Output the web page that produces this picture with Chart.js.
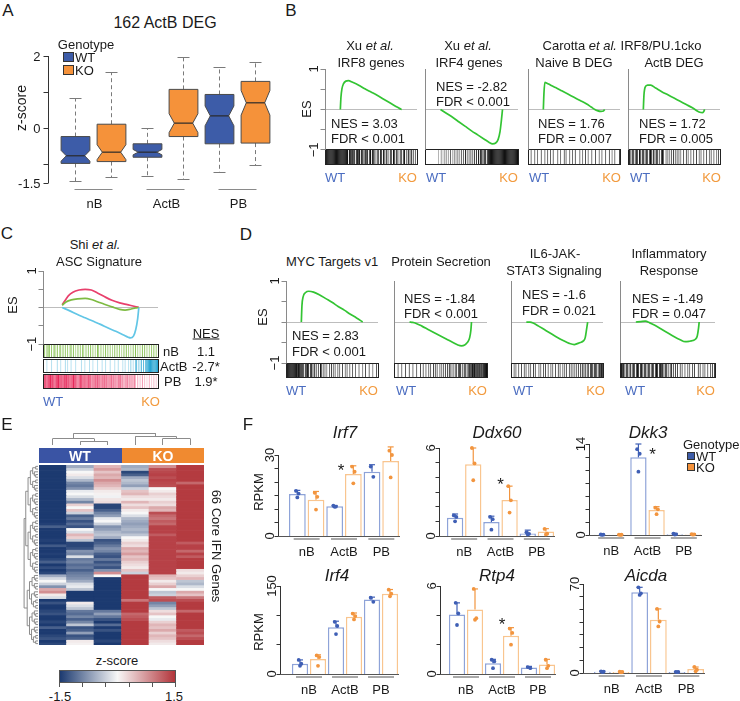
<!DOCTYPE html>
<html>
<head>
<meta charset="utf-8">
<script src="https://cdn.jsdelivr.net/npm/chart.js@4.4.1/dist/chart.umd.min.js"></script>
<style>
body { margin: 0; background: #fff; }
#fig { position: relative; width: 740px; height: 701px; overflow: hidden; font-family: "Liberation Sans", Arial, sans-serif; color: #1a1a1a; }
#fig canvas { position: absolute; }
.t { position: absolute; white-space: nowrap; line-height: 1; font-size: 13px; }
.sq { position: absolute; box-sizing: border-box; border: 1px solid #333; }
</style>
</head>
<body>
<div id="fig"></div>
<script>
// ---------- A: 162 ActB DEG (boxplot) ----------
var groups = ['nB', 'ActB', 'PB'];
var wtLow = [-1.46, -1.31, -1.22];
var wtQ1 = [-0.96, -0.79, -0.42];
var wtMed = [-0.75, -0.65, 0.35];
var wtQ3 = [-0.22, -0.42, 0.94];
var wtHigh = [0.83, -0.01, 1.68];
var koLow = [-1.35, -1.40, -1.03];
var koQ1 = [-0.91, -0.22, -0.40];
var koMed = [-0.65, 0.15, 0.71];
var koQ3 = [0.12, 1.08, 1.30];
var koHigh = [1.55, 1.95, 1.83];
var boxTicks = [2, 1, 0, -1, -1.5];
var boxTickLabels = ['2', '', '0', '', '-1.5'];

// ---------- B: GSEA running ES (x = rank %, y = ES) ----------
var esIRF8 = [[0, 0], [1, 0.3], [2.5, 0.5], [5, 0.63], [9, 0.7], [13, 0.71], [20, 0.67], [30, 0.6], [40, 0.51], [50, 0.43], [60, 0.35], [70, 0.26], [80, 0.17], [90, 0.08], [97, 0.02], [100, 0]];
var esIRF4 = [[0, 0], [10, -0.1], [20, -0.2], [30, -0.31], [40, -0.42], [50, -0.53], [60, -0.63], [70, -0.73], [78, -0.81], [84, -0.85], [89, -0.83], [93, -0.74], [96, -0.55], [98, -0.3], [100, 0]];
var esNaiveB = [[0, 0], [1, 0.4], [2.5, 0.67], [6, 0.65], [12, 0.6], [20, 0.54], [30, 0.46], [40, 0.38], [50, 0.3], [60, 0.22], [70, 0.14], [78, 0.06], [84, 0], [88, -0.03], [94, -0.05], [98, -0.04], [100, 0]];
var esActB = [[0, 0], [1, 0.35], [3, 0.55], [7, 0.6], [12, 0.6], [20, 0.53], [30, 0.44], [40, 0.36], [50, 0.28], [60, 0.2], [70, 0.12], [80, 0.04], [86, -0.02], [92, -0.07], [96, -0.08], [98.5, -0.05], [100, 0]];
// gene-set hits along the ranked list, one char per rank bin: 0 = none .. 9 = dark line
var hitsIRF8 = '9999999999' + '9999999999' + '9999909979' + '9790997909' + '7909979079' + '0979070970' + '9709707906' + '0970970790' + '6097079060' + '9707907060';
var hitsIRF4 = '0000000000' + '0000300503' + '0605040603' + '0605070507' + '0609060708' + '0709080909' + '7909890999' + '9999999999' + '9999999999' + '9999999999';
var hitsNaiveB = '7007000700' + '6000700070' + '0700600700' + '0070060007' + '0700070060' + '0700007006' + '0070060007' + '0007000600' + '7000700070' + '0600700007';
var hitsActB = '7970797079' + '7097079707' + '9707970970' + '7970707970' + '0707060707' + '0607070600' + '7007060070' + '0700700607' + '0070070060' + '7007006070';

// ---------- C: Shi et al. ASC signature ----------
var esC_nB = [[0, 0.06], [5, 0.15], [12, 0.21], [20, 0.24], [30, 0.25], [38, 0.22], [46, 0.16], [55, 0.09], [65, 0.02], [75, -0.05], [82, -0.07], [90, -0.04], [96, -0.01], [100, 0]];
var esC_ActB = [[0, 0], [10, -0.09], [20, -0.19], [30, -0.28], [40, -0.37], [50, -0.46], [60, -0.56], [70, -0.65], [80, -0.75], [86, -0.81], [89, -0.83], [93, -0.78], [96, -0.6], [98.5, -0.3], [100, 0]];
var esC_PB = [[0, 0.08], [4, 0.2], [8, 0.32], [14, 0.42], [22, 0.48], [30, 0.5], [38, 0.48], [46, 0.4], [55, 0.3], [65, 0.2], [75, 0.13], [85, 0.08], [95, 0.03], [100, 0]];
var hitsC_nB = '5707580706' + '8070570806' + '0705807050' + '8060750706' + '0807050860' + '7050807060' + '5080706050' + '8070605070' + '8060507080' + '6050708060';
var hitsC_ActB = '3003000300' + '0030030003' + '0300300030' + '0003003000' + '3003000300' + '0300300030' + '0030030003' + '0300305030' + '5706080709' + '8999999999';
var hitsC_PB = '9897989798' + '7989789797' + '8797879787' + '6787678767' + '6757675767' + '5756575656' + '4656465646' + '3545354535' + '3040304030' + '2030203020';
var nesC = ['1.1', '-2.7*', '1.9*'];

// ---------- D: Hallmark sets ----------
var esMYC = [[0, 0], [1, 0.4], [3, 0.62], [7, 0.72], [12, 0.75], [20, 0.73], [30, 0.66], [40, 0.57], [50, 0.48], [60, 0.38], [70, 0.29], [80, 0.19], [90, 0.1], [100, 0]];
var esSecretion = [[0, 0], [5, -0.01], [10, -0.03], [20, -0.1], [30, -0.18], [40, -0.26], [50, -0.34], [60, -0.42], [70, -0.5], [78, -0.56], [84, -0.58], [89, -0.56], [92, -0.52], [95, -0.46], [97, -0.38], [99, -0.2], [100, 0]];
var esIL6 = [[0, 0], [6, 0], [12, -0.03], [20, -0.1], [30, -0.19], [40, -0.28], [50, -0.37], [60, -0.45], [70, -0.52], [78, -0.55], [84, -0.52], [88, -0.5], [93, -0.46], [96, -0.38], [98.5, -0.15], [100, 0]];
var esInflam = [[0, 0], [8, 0.01], [15, 0.02], [22, -0.02], [30, -0.08], [40, -0.17], [50, -0.26], [60, -0.35], [70, -0.43], [78, -0.48], [84, -0.47], [90, -0.45], [94, -0.42], [97, -0.34], [99, -0.15], [100, 0]];
var hitsMYC = '9999999999' + '9979979797' + '0979707970' + '7907070970' + '7070600707' + '0607007070' + '0700607007' + '0070060007' + '0006007000' + '7000600070';
var hitsSecretion = '7000700070' + '0070007000' + '7000700070' + '0700700707' + '0070707007' + '0707070707' + '7070707707' + '7707077707' + '7977979779' + '7997979999';
var hitsIL6 = '7007070070' + '0700707007' + '0700707000' + '7070070700' + '7007070070' + '0707007070' + '7007070707' + '0707070770' + '7707707770' + '7977079797';
var hitsInflam = '7979707970' + '7907970797' + '0797079707' + '9707970797' + '0797970797' + '0707907070' + '7007070070' + '0707007070' + '0070700707' + '0070070707';

// ---------- E: 66 core IFN genes, z-scores per sample ----------
var hmSamples = ['WT1', 'WT2', 'WT3', 'KO1', 'KO2', 'KO3'];
var hmWT1 = [-1.5, -1.5, -1.5, -1.5, -1.5, -1.5, -1.5, -1.5, -1.5, -1.5,
  -1.5, -1.5, -1.5, -1.5, -1.5, -1.5, -1.5, -1.5, -1.5, -1.5,
  -1.5, -1.45, -1.2, -1.5, -1.5, -1.5, -1.5, -1.45, -1.5, -1.25,
  -1.5, -1.5, -1.45, -1.5, -1.4, -1.2, -1.5, -1.35, -1.5, -1.4,
  -0.6, -0.25, 0.0, -0.3, -0.8, 0.6, 0.8, 0.1, -0.2, -1.5,
  -1.3, -1.5, -1.5, -1.4, -1.3, -1.5, -1.5, -1.4, -1.5, -1.2,
  -1.5, -1.5, -1.4, -1.3, -1.5, -1.4];
var hmWT2 = [-0.6, -0.3, 0.0, 0.1, -0.2, -0.5, -0.9, -1.0, -0.8, -0.1,
  0.0, -0.2, -0.5, -0.9, 0.3, 0.0, 0.4, -0.3, -1.2, -1.0,
  -1.3, -1.1, -1.3, 0.0, -0.2, 0.5, 0.3, -0.4, -1.4, -1.4,
  -1.3, -0.8, -0.9, -0.2, -1.0, -0.9, -1.1, -1.0, -1.2, -1.0,
  -0.9, -0.8, -0.6, -0.2, -0.1, -0.4, -1.5, -1.5, -1.5, -1.5,
  0.1, -0.2, -0.4, -1.0, -1.1, -0.9, -1.2, -0.9, -0.4, -1.3,
  -1.2, -0.7, -1.3, -1.2, 0.1, 0.05];
var hmWT3 = [0.5, 0.7, 0.4, 0.6, 0.5, 0.8, 0.6, 0.5, 0.3, 0.1,
  0.05, -0.05, 0.15, 0.2, -1.4, -1.4, -1.2, -0.9, -0.7, -0.1,
  0.0, -0.3, -0.8, -0.7, -0.5, -0.4, -0.6, -1.3, -1.2, -1.0,
  -0.8, -0.9, -1.2, -1.3, -1.0, -1.3, -1.1, -1.3, -0.8, 0.8,
  0.0, -1.5, -1.5, -1.5, -1.5, -1.5, -1.5, -1.5, -1.5, -1.5,
  -1.5, -1.5, -1.5, -1.0, -0.7, -1.0, -1.3, -1.5, -1.1, -1.5,
  -1.3, -1.5, -1.5, -1.5, -1.4, -1.5];
var hmKO1 = [-0.6, -0.5, -1.4, -1.2, -0.6, -0.4, -0.5, -0.7, -0.3, 0.4,
  0.5, 0.2, 0.1, 0.5, 0.2, 0.4, 0.1, 0.0, -0.2, -0.5,
  -0.6, -0.7, -0.6, -0.5, -0.6, -0.4, 0.0, 0.1, 0.3, 0.2,
  0.6, 0.5, 0.7, 0.4, 0.5, 0.3, 0.2, 0.1, 0.4, -0.3,
  1.45, 1.45, 1.45, 1.45, 1.45, 1.45, 1.45, 1.45, 1.45, 1.0,
  1.45, 1.45, 1.45, 1.45, 1.1, 1.2, 1.3, 1.45, 1.45, 1.45,
  1.45, 1.45, 1.45, 1.45, 1.45, 1.45];
var hmKO2 = [0.8, 1.3, 1.35, 1.4, 1.3, 1.4, 1.35, 1.3, 0.0, 0.1,
  0.3, 0.2, 0.1, 0.3, 0.2, 0.6, 0.5, 1.3, 1.1, 1.0,
  1.2, 1.1, 1.4, 1.4, 1.4, 1.2, 1.4, 1.4, 1.4, 1.4,
  1.4, 1.4, 1.4, 1.4, 1.4, 1.4, 1.4, 1.4, 1.4, 1.4,
  0.5, 0.4, 0.1, 0.3, 0.6, 0.0, -0.4, -0.3, 1.2, 1.3,
  -0.9, -0.7, -0.4, 0.2, 0.4, 0.0, -0.1, 0.3, 0.5, 0.4,
  0.6, 0.3, 0.5, 0.4, 0.2, 0.1];
var hmKO3 = [1.45, 1.45, 1.45, 1.45, 1.45, 1.45, 1.1, 1.45, 1.45, 1.45,
  1.45, 1.45, 1.45, 1.45, 1.45, 1.45, 1.45, 1.45, 1.45, 1.45,
  1.45, 1.45, 1.45, 1.45, 1.45, 1.45, 1.45, 1.45, 1.2, 1.4,
  1.4, 1.1, 1.4, 1.2, 1.45, 1.45, 1.45, 1.45, 0.2, 0.1,
  0.3, 0.5, -0.4, -0.5, -0.2, 0.0, 0.6, 0.4, 1.0, 1.3,
  1.45, 1.45, 1.45, 1.1, 1.45, 1.45, 1.45, 1.45, 1.45, 1.45,
  1.2, 1.3, 1.1, 1.3, 1.45, 1.45];

// ---------- F: RPKM (bar = mean, err = top of error bar, dots = replicates) ----------
var irf7WT = [15.6, 11.0, 23.8], irf7KO = [13.4, 23.0, 27.8];
var irf7WTerr = [16.9, 11.3, 26.4], irf7KOerr = [16.5, 26.0, 33.0];
var irf7WTdots = [[16.7, 15.7, 14.3], [11.2, 10.9, 10.8], [25.7, 21.9]];
var irf7KOdots = [[16.0, 14.5, 9.8], [25.7, 23.8, 19.5], [31.6, 30.0, 21.7]];

var ddx60WT = [1.25, 0.95, 0.17], ddx60KO = [4.9, 2.45, 0.3];
var ddx60WTerr = [1.5, 1.35, 0.4], ddx60KOerr = [6.0, 3.4, 0.5];
var ddx60WTdots = [[1.4, 1.3, 1.0], [1.3, 1.15, 0.43], [0.25, 0.15, 0.1]];
var ddx60KOdots = [[6.0, 4.95, 3.8], [3.4, 2.43, 1.6], [0.48, 0.16, 0.11]];

var dkk3WT = [0.05, 11.95, 0.12], dkk3KO = [0.04, 3.85, 0.08];
var dkk3WTerr = [0.1, 14.0, 0.25], dkk3KOerr = [0.08, 4.36, 0.2];
var dkk3WTdots = [[0.08, 0.05, 0.03], [13.2, 12.5, 9.74], [0.2, 0.1, 0.08]];
var dkk3KOdots = [[0.05, 0.04, 0.03], [4.2, 3.95, 3.2], [0.15, 0.1, 0.05]];

var irf4WT = [17.5, 79.5, 126.9], irf4KO = [25.4, 97.6, 137];
var irf4WTerr = [24, 90, 131], irf4KOerr = [32.7, 104, 144];
var irf4WTdots = [[24, 17.5, 14], [89, 81.8, 68], [130, 123]];
var irf4KOdots = [[31.6, 28.8, 14], [103, 98.7, 93], [143.8, 137, 132.5]];

var rtp4WT = [4.06, 0.74, 0.45], rtp4KO = [4.4, 2.6, 0.65];
var rtp4WTerr = [4.85, 1.0, 0.52], rtp4KOerr = [5.8, 3.16, 1.0];
var rtp4WTdots = [[4.85, 4.13, 3.34], [0.97, 0.86, 0.4], [0.47, 0.4]];
var rtp4KOdots = [[5.8, 3.8, 3.7], [3.1, 2.8, 2.0], [0.97, 0.56, 0.4]];

var aicdaWT = [1.0, 63.5, 0.8], aicdaKO = [0.8, 41.8, 3.2];
var aicdaWTerr = [1.6, 67.4, 1.0], aicdaKOerr = [1.2, 50.4, 4.7];
var aicdaWTdots = [[1.3, 1.0, 0.7], [67.4, 62.7, 61.4], [0.9, 0.8, 0.7]];
var aicdaKOdots = [[1.0, 0.8, 0.6], [50.4, 40.5, 36.6], [4.7, 2.6, 1.3]];

// ---------- styles ----------
var FONT = '"Liberation Sans", Arial, sans-serif';
var WT_BOX = '#3d5ca8', KO_BOX = '#f5923a';
var WT_TXT = '#4a6cc0', KO_TXT = '#f29a3e';
var ES_GREEN = '#33c433';

var fig = document.getElementById('fig');

function txt(s, x, y, o) {
  o = o || {};
  var d = document.createElement('div');
  d.className = 't';
  d.innerHTML = s;
  d.style.left = x + 'px';
  d.style.top = y + 'px';
  if (o.size) d.style.fontSize = o.size + 'px';
  if (o.color) d.style.color = o.color;
  if (o.italic) d.style.fontStyle = 'italic';
  if (o.bold) d.style.fontWeight = 'bold';
  if (o.under) d.style.textDecoration = 'underline';
  var tx = o.align === 'left' ? '0' : (o.align === 'right' ? '-100%' : '-50%');
  var tf = 'translate(' + tx + ',-50%)';
  if (o.rot) tf += ' rotate(' + o.rot + 'deg)';
  d.style.transform = tf;
  fig.appendChild(d);
  return d;
}

function square(x, y, w, h, color, noBorder) {
  var d = document.createElement('div');
  d.className = 'sq';
  d.style.left = x + 'px'; d.style.top = y + 'px';
  d.style.width = w + 'px'; d.style.height = h + 'px';
  d.style.background = color;
  if (noBorder) d.style.border = 'none';
  fig.appendChild(d);
  return d;
}

function seg(ctx, x1, y1, x2, y2) {
  ctx.beginPath(); ctx.moveTo(x1, y1); ctx.lineTo(x2, y2); ctx.stroke();
}
function px(v) { return Math.round(v - 0.5) + 0.5; }
function vLabel(ctx, s, x, y) {
  ctx.save();
  ctx.translate(x, y);
  ctx.rotate(-Math.PI / 2);
  ctx.textAlign = 'center'; ctx.textBaseline = 'middle';
  ctx.fillText(s, 0, 0);
  ctx.restore();
}

// box = canvas [x, y, w, h]; area = plot [left, top, right, bottom], page coords
function makeChart(box, area, config) {
  var c = document.createElement('canvas');
  c.width = box[2]; c.height = box[3];
  c.style.left = box[0] + 'px'; c.style.top = box[1] + 'px';
  fig.appendChild(c);
  var o = config.options = config.options || {};
  o.responsive = false;
  o.animation = false;
  o.events = [];
  o.devicePixelRatio = 1;
  o.layout = { padding: { left: area[0] - box[0], top: area[1] - box[1], right: box[0] + box[2] - area[2], bottom: box[1] + box[3] - area[3] } };
  o.plugins = { legend: { display: false }, tooltip: { enabled: false } };
  return new Chart(c, config);
}

function shade(rgb, level) {
  var f = level / 9;
  return 'rgb(' + rgb.map(function (v) { return Math.round(255 + (v - 255) * f); }).join(',') + ')';
}

// ================= A =================
function drawBoxes(chart) {
  var ctx = chart.ctx, ys = chart.scales.y, xs = chart.scales.x, ca = chart.chartArea;
  ctx.save();
  chart.data.datasets.forEach(function (ds, di) {
    chart.getDatasetMeta(di).data.forEach(function (bar, i) {
      var x = bar.x, hw = bar.width / 2;
      var yl = ys.getPixelForValue(ds.low[i]), yh = ys.getPixelForValue(ds.high[i]);
      var y1 = ys.getPixelForValue(ds.data[i][0]), y3 = ys.getPixelForValue(ds.data[i][1]);
      var ym = ys.getPixelForValue(ds.med[i]);
      ctx.strokeStyle = '#7a7a7a'; ctx.lineWidth = 1;
      ctx.setLineDash([4, 3]);
      seg(ctx, px(x), y3, px(x), yh);
      seg(ctx, px(x), y1, px(x), yl);
      ctx.setLineDash([]);
      seg(ctx, x - 6, px(yh), x + 6, px(yh));
      seg(ctx, x - 6, px(yl), x + 6, px(yl));
      var nh = 0.2 * (y1 - y3);
      var nt = Math.max(y3, ym - nh), nb = Math.min(y1, ym + nh), ins = bar.width * 0.18;
      ctx.beginPath();
      ctx.moveTo(x - hw, y3); ctx.lineTo(x + hw, y3); ctx.lineTo(x + hw, nt);
      ctx.lineTo(x + hw - ins, ym); ctx.lineTo(x + hw, nb); ctx.lineTo(x + hw, y1);
      ctx.lineTo(x - hw, y1); ctx.lineTo(x - hw, nb); ctx.lineTo(x - hw + ins, ym);
      ctx.lineTo(x - hw, nt); ctx.closePath();
      ctx.fillStyle = ds.boxColor; ctx.fill();
      ctx.strokeStyle = '#4a4a4a'; ctx.stroke();
      ctx.strokeStyle = '#2a2a2a'; ctx.lineWidth = 1.2;
      seg(ctx, x - hw + ins, ym, x + hw - ins, ym);
    });
  });
  // y axis
  var ax = px(ca.left - 9.5);
  ctx.strokeStyle = '#333'; ctx.lineWidth = 1;
  seg(ctx, ax, ys.getPixelForValue(2), ax, ys.getPixelForValue(-1.5));
  ctx.fillStyle = '#1a1a1a'; ctx.font = '13px ' + FONT;
  ctx.textAlign = 'right'; ctx.textBaseline = 'middle';
  boxTicks.forEach(function (v, i) {
    var y = px(ys.getPixelForValue(v));
    seg(ctx, ax - 5, y, ax, y);
    if (boxTickLabels[i]) ctx.fillText(boxTickLabels[i], ax - 8, y + 1);
  });
  // group underline + labels
  var base = ys.getPixelForValue(-1.5);
  ctx.textAlign = 'center'; ctx.strokeStyle = '#8a8a8a';
  groups.forEach(function (g, i) {
    var gx = xs.getPixelForValue(i);
    seg(ctx, gx - 19, px(base + 6), gx + 19, px(base + 6));
    ctx.fillText(g, gx + 1, base + 21);
  });
  ctx.restore();
}

makeChart([0, 40, 285, 180], [57.5, 56, 273.5, 183], {
  type: 'bar',
  data: {
    labels: groups,
    datasets: [
      { label: 'WT', data: groups.map(function (g, i) { return [wtQ1[i], wtQ3[i]]; }), low: wtLow, med: wtMed, high: wtHigh, boxColor: WT_BOX, backgroundColor: 'rgba(0,0,0,0)', borderWidth: 0 },
      { label: 'KO', data: groups.map(function (g, i) { return [koQ1[i], koQ3[i]]; }), low: koLow, med: koMed, high: koHigh, boxColor: KO_BOX, backgroundColor: 'rgba(0,0,0,0)', borderWidth: 0 }
    ]
  },
  options: {
    datasets: { bar: { categoryPercentage: 1, barPercentage: 0.8 } },
    scales: { x: { display: false }, y: { display: false, min: -1.5, max: 2 } }
  },
  plugins: [{ id: 'boxes', afterDatasetsDraw: drawBoxes }]
});

// ================= GSEA panels (B, C, D) =================
function gseaPlot(area, yMin, curves, codes, withTicks) {
  var nb = codes[0].hits.length;
  var bins = [];
  for (var i = 0; i < nb; i++) bins.push(i);
  var sets = curves.map(function (c) {
    return { type: 'line', xAxisID: 'x', yAxisID: 'y', data: c.es.map(function (p) { return { x: p[0], y: p[1] }; }),
      borderColor: c.color, borderWidth: 1.7, pointRadius: 0, cubicInterpolationMode: 'monotone', clip: 4, order: 0 };
  });
  codes.forEach(function (b) {
    var h = b.hits.split('');
    sets.push({ type: 'bar', xAxisID: 'xb', yAxisID: 'y', data: h.map(function () { return [b.lo, b.hi]; }),
      backgroundColor: h.map(function (v) { return shade(b.color, +v); }),
      barPercentage: 1, categoryPercentage: 1, borderWidth: 0, inflateAmount: 0, grouped: false, order: 1, lo: b.lo, hi: b.hi });
  });
  makeChart([area[0] - 30, area[1] - 8, area[2] - area[0] + 40, area[3] - area[1] + 16], area, {
    type: 'bar',
    data: { labels: bins, datasets: sets },
    options: {
      scales: {
        x: { type: 'linear', min: 0, max: 100, display: false },
        xb: { type: 'category', labels: bins, offset: true, display: false },
        y: { type: 'linear', min: yMin, max: 1, display: false }
      }
    },
    plugins: [{
      id: 'gsea',
      beforeDatasetsDraw: function (chart) {
        var ctx = chart.ctx, ys = chart.scales.y, ca = chart.chartArea;
        ctx.save();
        ctx.strokeStyle = '#bdbdbd'; ctx.lineWidth = 1;
        seg(ctx, ca.left, px(ys.getPixelForValue(0)), ca.right, px(ys.getPixelForValue(0)));
        ctx.restore();
      },
      afterDatasetsDraw: function (chart) {
        var ctx = chart.ctx, ys = chart.scales.y, ca = chart.chartArea;
        ctx.save();
        ctx.lineWidth = 1;
        ctx.strokeStyle = '#222';
        chart.data.datasets.forEach(function (ds) {
          if (ds.type !== 'bar') return;
          var t = px(ys.getPixelForValue(ds.hi)), b = px(ys.getPixelForValue(ds.lo));
          ctx.strokeRect(px(ca.left), t, Math.round(ca.right - ca.left), b - t);
        });
        var ax = px(ca.left);
        ctx.strokeStyle = '#8a8a8a';
        seg(ctx, ax, ys.getPixelForValue(1), ax, ys.getPixelForValue(-1));
        if (withTicks) {
          [1, 0.5, 0, -0.5, -1].forEach(function (v) {
            var y = px(ys.getPixelForValue(v));
            seg(ctx, ax - 5, y, ax, y);
          });
          ctx.fillStyle = '#1a1a1a'; ctx.font = '13px ' + FONT;
          vLabel(ctx, '1', ax - 11, ys.getPixelForValue(1));
          vLabel(ctx, '\u22121', ax - 11, ys.getPixelForValue(-1));
        }
        ctx.restore();
      }
    }]
  });
}

var BLACK = [0, 0, 0];
// B
gseaPlot([325, 69, 417, 164], -1.35, [{ es: esIRF8, color: ES_GREEN }], [{ hits: hitsIRF8, lo: -1.35, hi: -1, color: BLACK }], true);
gseaPlot([425, 69, 518, 164], -1.35, [{ es: esIRF4, color: ES_GREEN }], [{ hits: hitsIRF4, lo: -1.35, hi: -1, color: BLACK }], false);
gseaPlot([528, 69, 620, 164], -1.35, [{ es: esNaiveB, color: ES_GREEN }], [{ hits: hitsNaiveB, lo: -1.35, hi: -1, color: BLACK }], false);
gseaPlot([628, 69, 720, 164], -1.35, [{ es: esActB, color: ES_GREEN }], [{ hits: hitsActB, lo: -1.35, hi: -1, color: BLACK }], false);
// C
gseaPlot([43, 271, 158, 388], -2.2,
  [{ es: esC_ActB, color: '#62c6e6' }, { es: esC_nB, color: '#7dbb42' }, { es: esC_PB, color: '#e8406c' }],
  [{ hits: hitsC_nB, lo: -1.36, hi: -1.0, color: [120, 185, 60] },
   { hits: hitsC_ActB, lo: -1.78, hi: -1.42, color: [40, 165, 210] },
   { hits: hitsC_PB, lo: -2.2, hi: -1.84, color: [230, 40, 90] }], true);
// D
gseaPlot([286, 281, 378, 377], -1.34, [{ es: esMYC, color: ES_GREEN }], [{ hits: hitsMYC, lo: -1.34, hi: -1, color: BLACK }], true);
gseaPlot([394, 281, 487, 377], -1.34, [{ es: esSecretion, color: ES_GREEN }], [{ hits: hitsSecretion, lo: -1.34, hi: -1, color: BLACK }], false);
gseaPlot([511, 281, 603, 377], -1.34, [{ es: esIL6, color: ES_GREEN }], [{ hits: hitsIL6, lo: -1.34, hi: -1, color: BLACK }], false);
gseaPlot([620, 281, 715, 377], -1.34, [{ es: esInflam, color: ES_GREEN }], [{ hits: hitsInflam, lo: -1.34, hi: -1, color: BLACK }], false);

// ================= E: heatmap =================
function zColor(z) {
  var t = Math.max(-1.5, Math.min(1.5, z)) / 1.5;
  var lo = t < 0 ? [28, 58, 112] : [178, 52, 58], mid = [247, 247, 247], f = Math.abs(t);
  return 'rgb(' + mid.map(function (m, k) { return Math.round(m + (lo[k] - m) * f); }).join(',') + ')';
}
var hmCols = [hmWT1, hmWT2, hmWT3, hmKO1, hmKO2, hmKO3];
var hmSets = hmWT1.map(function (v, r) {
  return { data: hmCols.map(function () { return 1; }), backgroundColor: hmCols.map(function (col) { return zColor(col[r]); }),
    borderWidth: 0, barPercentage: 1, categoryPercentage: 1 };
});
makeChart([12, 426, 200, 224], [39, 465, 204, 645], {
  type: 'bar',
  data: { labels: hmSamples, datasets: hmSets },
  options: {
    scales: {
      x: { stacked: true, display: false },
      y: { stacked: true, min: 0, max: hmWT1.length, reverse: true, display: false }
    }
  },
  plugins: [{
    id: 'dendro',
    afterDraw: function (chart) {
      var ctx = chart.ctx, xs = chart.scales.x, ys = chart.scales.y, ca = chart.chartArea;
      ctx.save();
      ctx.strokeStyle = '#8c8c8c'; ctx.lineWidth = 1;
      // sample tree
      var top = ca.top;
      function cx(i) { return xs.getPixelForValue(i); }
      function bracket(x1, y1, x2, y2, h) {
        seg(ctx, px(x1), y1, px(x1), px(h)); seg(ctx, px(x2), y2, px(x2), px(h)); seg(ctx, x1, px(h), x2, px(h));
      }
      var leaf = top - 20;
      bracket(cx(1), leaf, cx(2), leaf, top - 24);
      bracket(cx(0), leaf, (cx(1) + cx(2)) / 2, top - 24, top - 27);
      bracket(cx(4), leaf, cx(5), leaf, top - 27);
      bracket(cx(3), leaf, (cx(4) + cx(5)) / 2, top - 27, top - 29);
      bracket((cx(0) + (cx(1) + cx(2)) / 2) / 2, top - 27, (cx(3) + (cx(4) + cx(5)) / 2) / 2, top - 29, top - 32);
      // gene tree
      var leafX = ca.left - 1;
      function branch(lo, hi) {
        if (hi - lo === 1) return { x: leafX, y: ys.getPixelForValue(lo + 0.5) };
        var mid = (lo === 0 && hi === hmWT1.length) ? 40 : Math.floor((lo + hi) / 2);
        var a = branch(lo, mid), b = branch(mid, hi);
        var x = leafX - 2.3 * Math.log2(hi - lo);
        seg(ctx, a.x, a.y, x, a.y); seg(ctx, b.x, b.y, x, b.y); seg(ctx, x, a.y, x, b.y);
        return { x: x, y: (a.y + b.y) / 2 };
      }
      branch(0, hmWT1.length);
      ctx.restore();
    }
  }]
});

// ================= F: RPKM bar charts =================
function rpkmPlot(area, axisX, yMax, yStep, wt, ko, wtErr, koErr, wtDots, koDots, star) {
  makeChart([axisX - 25, area[1] - 14, area[2] - axisX + 32, area[3] - area[1] + 40], area, {
    type: 'bar',
    data: {
      labels: groups,
      datasets: [
        { data: wt, err: wtErr, dots: wtDots, dotColor: '#3f5fb5', backgroundColor: '#ffffff', borderColor: '#8ea3d8', borderWidth: 1.5 },
        { data: ko, err: koErr, dots: koDots, dotColor: '#f2953f', backgroundColor: '#ffffff', borderColor: '#f9c58f', borderWidth: 1.5 }
      ]
    },
    options: {
      datasets: { bar: { categoryPercentage: 1, barPercentage: 0.9 } },
      scales: { x: { display: false }, y: { display: false, min: 0, max: yMax } }
    },
    plugins: [{
      id: 'rpkm',
      afterDatasetsDraw: function (chart) {
        var ctx = chart.ctx, ys = chart.scales.y, xs = chart.scales.x, ca = chart.chartArea;
        ctx.save();
        var y0 = px(ys.getPixelForValue(0));
        var ax = px(ca.left - (area[0] - axisX));
        // baseline and group lines
        ctx.lineWidth = 1; ctx.strokeStyle = '#555';
        seg(ctx, ax, y0, ca.right, y0);
        ctx.strokeStyle = '#8c8c8c'; ctx.lineWidth = 1.5;
        groups.forEach(function (g, i) {
          var gx = xs.getPixelForValue(i);
          seg(ctx, gx - 13, y0 + 2.5, gx + 13, y0 + 2.5);
        });
        // error bars and replicate dots
        var jit = [-1.3, 1.3, 0];
        chart.data.datasets.forEach(function (ds, di) {
          chart.getDatasetMeta(di).data.forEach(function (bar, i) {
            ctx.strokeStyle = ds.dotColor; ctx.fillStyle = ds.dotColor; ctx.lineWidth = 1.2;
            var ye = ys.getPixelForValue(ds.err[i]);
            seg(ctx, bar.x, bar.y, bar.x, ye);
            seg(ctx, bar.x - 3, ye, bar.x + 3, ye);
            ds.dots[i].forEach(function (v, k) {
              ctx.beginPath();
              ctx.arc(bar.x + jit[k], ys.getPixelForValue(v), 1.9, 0, Math.PI * 2);
              ctx.fill();
            });
          });
        });
        // y axis
        ctx.strokeStyle = '#333'; ctx.lineWidth = 1;
        seg(ctx, ax, y0, ax, ys.getPixelForValue(yMax));
        for (var v = 0; v <= yMax + 1e-9; v += yStep) {
          var y = px(ys.getPixelForValue(v));
          seg(ctx, ax - 4, y, ax, y);
        }
        ctx.fillStyle = '#1a1a1a'; ctx.font = '13px ' + FONT;
        vLabel(ctx, String(yMax), ax - 8, ys.getPixelForValue(yMax));
        vLabel(ctx, '0', ax - 8, ys.getPixelForValue(0));
        ctx.textAlign = 'center'; ctx.textBaseline = 'middle';
        groups.forEach(function (g, i) { ctx.fillText(g, xs.getPixelForValue(i), y0 + 16); });
        if (star) {
          ctx.font = '17px ' + FONT;
          ctx.fillText('*', xs.getPixelForValue(star[0]) + (star[2] || 0), ys.getPixelForValue(star[1]) + 4);
        }
        ctx.restore();
      }
    }]
  });
}

rpkmPlot([288, 455, 400, 536], 278, 30, 5, irf7WT, irf7KO, irf7WTerr, irf7KOerr, irf7WTdots, irf7KOdots, [1, 25.6, -3]);
rpkmPlot([446, 448, 555, 536], 439, 6, 1, ddx60WT, ddx60KO, ddx60WTerr, ddx60KOerr, ddx60WTdots, ddx60KOdots, [1, 3.75, 0]);
rpkmPlot([593, 444, 702, 535], 589, 14, 2, dkk3WT, dkk3KO, dkk3WTerr, dkk3KOerr, dkk3WTdots, dkk3KOdots, [1, 12.8, 5]);
rpkmPlot([291, 586, 399, 674], 280, 150, 50, irf4WT, irf4KO, irf4WTerr, irf4KOerr, irf4WTdots, irf4KOdots, null);
rpkmPlot([448, 586, 556, 674], 440, 6, 2, rtp4WT, rtp4KO, rtp4WTerr, rtp4KOerr, rtp4WTdots, rtp4KOdots, [1, 3.6, 0]);
rpkmPlot([593, 584, 705, 673], 583, 70, 10, aicdaWT, aicdaKO, aicdaWTerr, aicdaKOerr, aicdaWTdots, aicdaKOdots, null);

// ================= text =================
// panel letters
txt('A', 8, 10, { size: 17 });
txt('B', 291, 10, { size: 17 });
txt('C', 7, 233, { size: 17 });
txt('D', 246, 234, { size: 17 });
txt('E', 7, 424, { size: 17 });
txt('F', 248, 424, { size: 17 });

// A
txt('162 ActB DEG', 165, 23, { size: 16 });
txt('Genotype', 86, 44);
square(63, 52, 11, 10, WT_BOX);
square(63, 65, 11, 10, KO_BOX);
txt('WT', 75, 57, { align: 'left' });
txt('KO', 75, 70, { align: 'left' });
txt('z-score', 21, 108, { rot: -90, size: 14 });

// B
txt('Xu <i>et al.</i>', 370, 45);
txt('IRF8 genes', 371, 62);
txt('Xu <i>et al.</i>', 468, 45);
txt('IRF4 genes', 469, 62);
txt('Carotta <i>et al.</i> IRF8/PU.1cko', 622, 45);
txt('Naive B DEG', 574, 62);
txt('ActB DEG', 674, 62);
txt('ES', 306, 109, { rot: -90 });
txt('NES = 3.03', 331, 123, { align: 'left' });
txt('FDR &lt; 0.001', 331, 138, { align: 'left' });
txt('NES = -2.82', 436, 86, { align: 'left' });
txt('FDR &lt; 0.001', 436, 101, { align: 'left' });
txt('NES = 1.76', 538, 123, { align: 'left' });
txt('FDR = 0.007', 538, 138, { align: 'left' });
txt('NES = 1.72', 639, 123, { align: 'left' });
txt('FDR = 0.005', 639, 138, { align: 'left' });
[[325, 417], [426, 518], [529, 621], [630, 721]].forEach(function (p) {
  txt('WT', p[0], 177, { align: 'left', color: WT_TXT });
  txt('KO', p[1], 177, { align: 'right', color: KO_TXT });
});

// C
txt('Shi <i>et al.</i>', 95, 244);
txt('ASC Signature', 99, 261);
txt('ES', 12, 305, { rot: -90 });
txt('nB', 163, 351, { align: 'left' });
txt('ActB', 160, 366, { align: 'left' });
txt('PB', 164, 381, { align: 'left' });
txt('NES', 206, 333, { under: true });
txt(nesC[0], 206, 351);
txt(nesC[1], 206, 366);
txt(nesC[2], 206, 381);
txt('WT', 43, 401, { align: 'left', color: WT_TXT });
txt('KO', 160, 401, { align: 'right', color: KO_TXT });

// D
txt('MYC Targets v1', 332, 261);
txt('Protein Secretion', 441, 261);
txt('IL6-JAK-', 555, 253);
txt('STAT3 Signaling', 554, 270);
txt('Inflammatory', 669, 253);
txt('Response', 669, 270);
txt('ES', 262, 317, { rot: -90 });
txt('NES = 2.83', 292, 335, { align: 'left' });
txt('FDR &lt; 0.001', 292, 351, { align: 'left' });
txt('NES = -1.84', 404, 298, { align: 'left' });
txt('FDR &lt; 0.001', 404, 313, { align: 'left' });
txt('NES = -1.6', 522, 294, { align: 'left' });
txt('FDR = 0.021', 522, 310, { align: 'left' });
txt('NES = -1.49', 632, 298, { align: 'left' });
txt('FDR = 0.047', 632, 313, { align: 'left' });
[[286, 378], [396, 487], [513, 605], [625, 715]].forEach(function (p) {
  txt('WT', p[0], 390, { align: 'left', color: WT_TXT });
  txt('KO', p[1], 390, { align: 'right', color: KO_TXT });
});

// E
square(39, 448, 83, 15, '#3a54a4', true);
square(122, 448, 82, 15, '#f08a30', true);
txt('WT', 80, 456, { bold: true, color: '#fff', size: 14 });
txt('KO', 163, 456, { bold: true, color: '#fff', size: 14 });
txt('66 Core IFN Genes', 216, 546, { rot: 90 });
txt('z-score', 117, 660);
var cb = square(59, 670, 117, 13, 'linear-gradient(to right, rgb(28,58,112), rgb(247,247,247), rgb(178,52,58))');
cb.style.border = '1px solid #555';
[0, 1, 2, 3, 4, 5].forEach(function (k) { square(59 + k * 23.2, 683, 1, 4, '#555', true); });
txt('-1.5', 60, 696);
txt('1.5', 174, 696);

// F
txt('Irf7', 345, 432, { italic: true, size: 17 });
txt('Ddx60', 497, 432, { italic: true, size: 17 });
txt('Dkk3', 648, 432, { italic: true, size: 17 });
txt('Irf4', 337, 575, { italic: true, size: 17 });
txt('Rtp4', 497, 575, { italic: true, size: 17 });
txt('Aicda', 646, 575, { italic: true, size: 17 });
txt('RPKM', 258, 492, { rot: -90 });
txt('RPKM', 258, 632, { rot: -90 });
txt('Genotype', 683, 444, { align: 'left' });
square(687, 452, 8, 8, WT_BOX);
square(687, 463, 8, 8, KO_BOX);
txt('WT', 696, 456, { align: 'left' });
txt('KO', 696, 467, { align: 'left' });
</script>
</body>
</html>
